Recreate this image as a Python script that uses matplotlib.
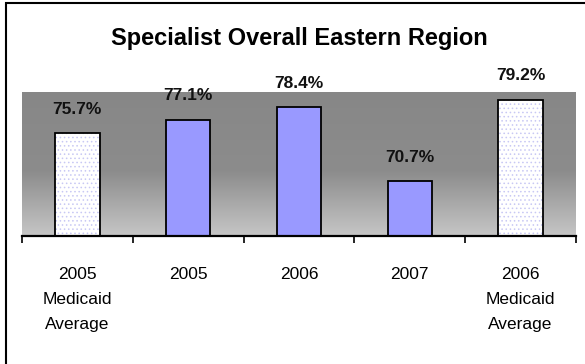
import numpy as np
import matplotlib.pyplot as plt
from matplotlib.colors import LinearSegmentedColormap
from matplotlib.patches import Rectangle

plt.rcParams['font.family'] = ['Liberation Sans', 'DejaVu Sans']
plt.rcParams['hatch.linewidth'] = 0.6

categories = ['2005\nMedicaid\nAverage', '2005', '2006', '2007', '2006\nMedicaid\nAverage']
values = [75.7, 77.1, 78.4, 70.7, 79.2]
is_benchmark = [True, False, False, False, True]

fig = plt.figure(figsize=(5.85, 3.64), dpi=100)
ax = fig.add_axes([22 / 585, 1 - 236 / 364, 554 / 585, 144 / 364])

# grey gradient plot area, dark on top fading lighter toward the bottom
cmap = LinearSegmentedColormap.from_list(
    'bg', [(0.0, '#c6c6c6'), (0.45, '#8c8c8c'), (1.0, '#878787')])
grad = np.linspace(0, 1, 256).reshape(-1, 1)
ax.imshow(grad, cmap=cmap, origin='lower', aspect='auto',
          extent=[0, 1, 0, 1], transform=ax.transAxes, zorder=0)

x = np.arange(len(values))
width = 0.4
for xi, v, bench in zip(x, values, is_benchmark):
    if bench:
        ax.bar(xi, v - 65, width, bottom=65, color='white', edgecolor='#c8c8f4',
               hatch='....', linewidth=0, zorder=2)
        ax.bar(xi, v - 65, width, bottom=65, fill=False, edgecolor='black',
               linewidth=1.3, zorder=3)
    else:
        ax.bar(xi, v - 65, width, bottom=65, color='#9999ff', edgecolor='black',
               linewidth=1.3, zorder=3)
    ax.annotate(f'{v:.1f}%', (xi, v), xytext=(0, 24), textcoords='offset pixels',
                ha='center', va='center', fontsize=12.5, fontweight='bold',
                color='#111111', annotation_clip=False)

ax.set_xlim(-0.5, len(values) - 0.5)
ax.set_ylim(65, 80)
ax.set_yticks([])
for side in ['left', 'right', 'top']:
    ax.spines[side].set_visible(False)
ax.spines['bottom'].set_linewidth(1.6)
ax.spines['bottom'].set_zorder(4)

ax.set_xticks(x)
ax.set_xticklabels(categories, fontsize=12.5, linespacing=1.85)
ax.tick_params(axis='x', which='major', length=0, pad=22)
ax.set_xticks(np.arange(-0.5, len(values)), minor=True)
ax.tick_params(axis='x', which='minor', length=5, width=1.2, direction='out')

fig.text(299 / 585, 1 - 39 / 364, 'Specialist Overall Eastern Region',
         ha='center', va='center', fontsize=17, fontweight='bold')

# outer frame of the chart, running off the right and bottom edges
fig.patches.append(Rectangle((5.5 / 585, -0.1), 1.0, 1.1 - 3.5 / 364, fill=False,
                             edgecolor='black', linewidth=1.5,
                             transform=fig.transFigure, figure=fig))

fig.savefig('out.png', dpi=100)
